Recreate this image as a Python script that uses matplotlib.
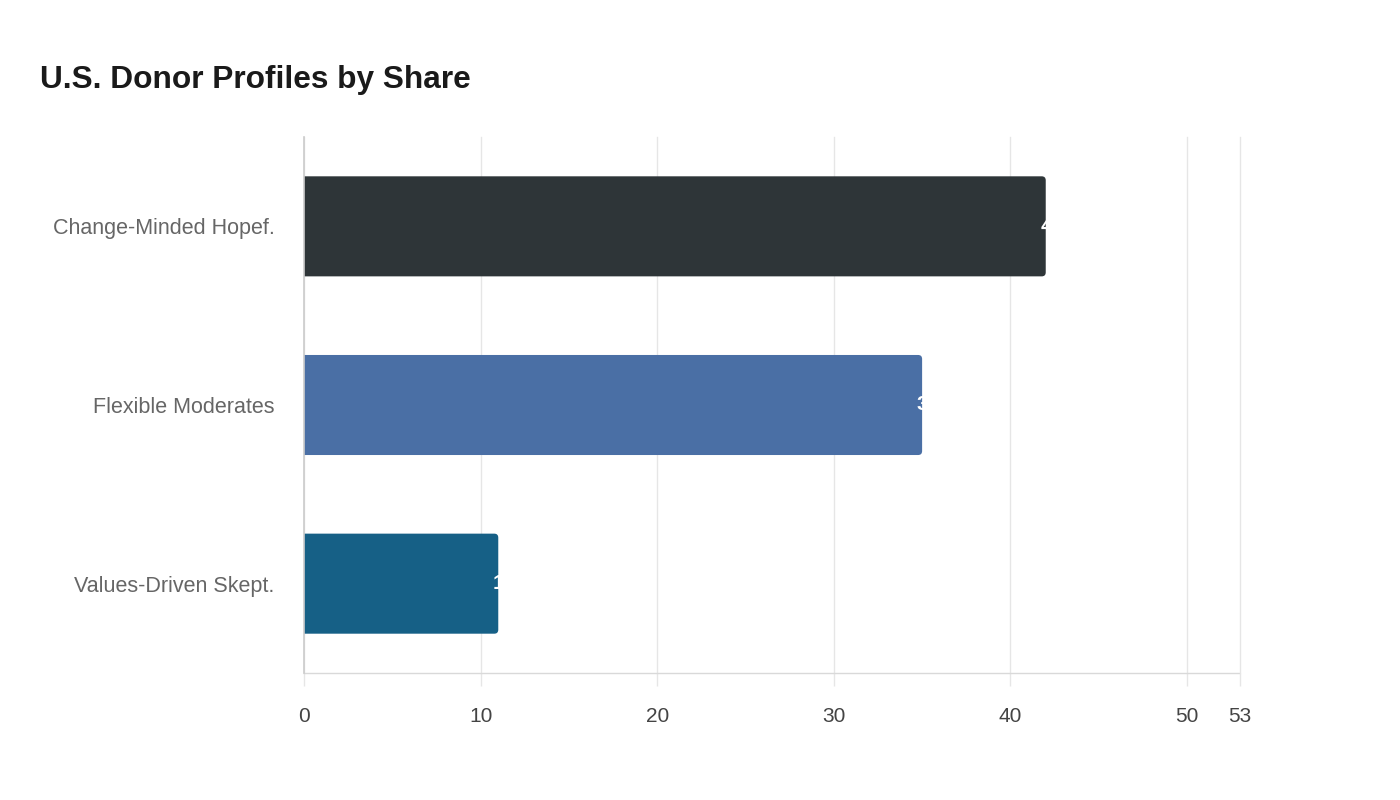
import matplotlib
matplotlib.use("Agg")
import matplotlib.pyplot as plt
from matplotlib.patches import FancyBboxPatch

plt.rcParams['font.family'] = ['Liberation Sans', 'DejaVu Sans']

categories = ["Change-Minded Hopef.", "Flexible Moderates", "Values-Driven Skept."]
values = [42, 35, 11]
colors = ["#2e3538", "#4a6fa5", "#166086"]
xticks = [0, 10, 20, 30, 40, 50, 53]
title = "U.S. Donor Profiles by Share"

fig = plt.figure(figsize=(14, 8), dpi=100)
ax = fig.add_axes([304/1400, 1-673/800, (1240-304)/1400, (673-137)/800])
ax.set_xlim(0, 53)
ax.set_ylim(2.5, -0.5)

bar_h = 0.56
px_x = (1240-304)/53
px_y = (673-137)/3
r_px = 4
for i, (v, c) in enumerate(zip(values, colors)):
    patch = FancyBboxPatch((-0.5, i - bar_h/2), v + 0.5, bar_h,
                           boxstyle=f"round,pad=0,rounding_size={r_px/px_x}",
                           mutation_aspect=px_x/px_y,
                           facecolor=c, edgecolor="none", zorder=3)
    ax.add_patch(patch)
    t = ax.text(v - 0.3, i, f"{v}", color="white", fontsize=15, fontweight="bold",
                ha="left", va="center", zorder=4)
    t.set_clip_path(patch)

ax.set_yticks(range(len(categories)))
ax.set_yticklabels(categories, fontsize=15.5, color="#666666")
ax.tick_params(axis='y', length=0, pad=21)

ax.set_xticks(xticks)
ax.set_xticklabels([str(x) for x in xticks], fontsize=15, color="#444444")
ax.tick_params(axis='x', length=9, color="#e6e6e6", width=1, pad=15.5)
ax.grid(axis='x', color="#e6e6e6", linewidth=1, zorder=0)
for gl in ax.get_xgridlines():
    gl.set_clip_on(False)
ax.set_axisbelow(True)

for s in ["top", "right"]:
    ax.spines[s].set_visible(False)
ax.spines["left"].set_color("#cccccc")
ax.spines["left"].set_linewidth(1.2)
ax.spines["left"].set_zorder(5)
ax.spines["bottom"].set_color("#d9d9d9")
ax.spines["bottom"].set_linestyle((0, (1, 1)))
ax.spines["bottom"].set_linewidth(1)

fig.text(40/1400, 1-80/800, title, fontsize=22.8, fontweight="bold", color="#1a1a1a",
         ha="left", va="center")

fig.savefig("out.png", dpi=100, facecolor="white")
